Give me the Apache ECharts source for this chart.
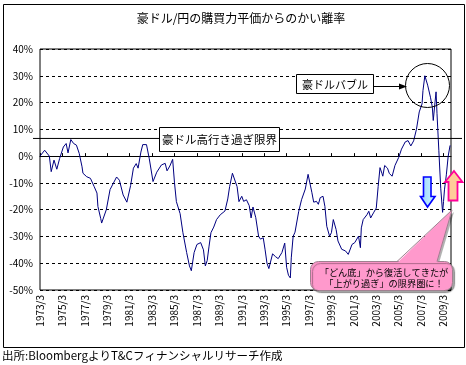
<!DOCTYPE html>
<html><head><meta charset="utf-8">
<script src="https://cdn.jsdelivr.net/npm/echarts@6/dist/echarts.min.js"></script>
<style>html,body{margin:0;padding:0;background:#fff}#c{width:466px;height:365px}</style>
</head><body><div id="c"></div>
<script>
const tickLabels = ['1973/3','1975/3','1977/3','1979/3','1981/3','1983/3','1985/3','1987/3','1989/3','1991/3','1993/3','1995/3','1997/3','1999/3','2001/3','2003/3','2005/3','2007/3','2009/3'];
const dates = ['1973/3','1973/8','1973/9','1974/1','1974/3','1974/6','1974/9','1974/12','1975/4','1975/7','1975/9','1975/12','1976/3','1976/6','1976/9','1976/12','1977/1','1977/5','1977/9','1978/1','1978/4','1978/5','1978/8','1978/9','1979/2','1979/6','1980/1','1980/4','1980/8','1980/12','1981/2','1981/4','1981/7','1981/10','1981/12','1982/3','1982/5','1982/9','1982/12','1983/4','1983/8','1984/1','1984/5','1984/7','1984/10','1985/1','1985/3','1985/5','1985/9','1985/12','1986/4','1986/7','1986/9','1986/12','1987/3','1987/7','1987/10','1987/12','1988/2','1988/4','1988/6','1988/9','1988/12','1989/4','1989/9','1989/12','1990/2','1990/5','1990/7','1990/10','1990/12','1991/3','1991/5','1991/8','1991/11','1992/1','1992/3','1992/5','1992/6','1992/9','1992/11','1993/2','1993/4','1993/6','1993/8','1993/10','1993/12','1994/3','1994/6','1994/10','1995/1','1995/3','1995/5','1995/7','1995/8','1995/10','1995/12','1996/4','1996/7','1996/11','1997/2','1997/6','1997/8','1997/11','1998/1','1998/3','1998/6','1998/8','1998/10','1999/1','1999/3','1999/5','1999/8','1999/10','2000/2','2000/6','2000/9','2001/1','2001/4','2001/8','2001/10','2001/11','2002/1','2002/5','2002/7','2002/9','2002/12','2003/3','2003/5','2003/7','2003/9','2003/10','2003/12','2004/3','2004/5','2004/8','2004/11','2005/3','2005/6','2005/10','2006/1','2006/4','2006/7','2006/10','2007/1','2007/4','2007/5','2007/7','2007/10','2008/1','2008/3','2008/4','2008/6','2008/7','2008/8','2008/10','2008/12','2009/2','2009/3','2009/4','2009/6','2009/8','2009/10'];
const values = [0,2.2,2.5,0,-5.8,-1.5,-4.9,-0.9,3.4,4.7,1.2,6.2,4.7,4.1,1,-4,-6.4,-7.7,-8.3,-11.4,-13.8,-18.8,-23.3,-25,-20,-12.5,-7.8,-9,-14.5,-17.2,-17,-11,-4.5,-2.8,-4.5,1.5,4.3,4.3,-1,-9.5,-6,-3.3,-2.7,-5.5,-3.7,-1.2,-10,-17,-21.5,-28.6,-36,-41,-42.8,-36,-33,-32.3,-35,-41,-39,-33.6,-28.6,-26.5,-23.7,-21.9,-20.5,-16,-11.4,-6.4,-7,-11.4,-17,-15,-16.9,-16.3,-18.5,-23.1,-19,-18.8,-23,-29.9,-31,-30.5,-35,-40,-42,-42,-36.5,-37.5,-38.3,-36,-32.5,-41.5,-44.5,-45.5,-38,-30,-28.4,-20.6,-16.3,-12.3,-6.8,-13.5,-17.2,-16.9,-18,-15.5,-15,-18.8,-26.2,-29.9,-28.6,-23.7,-27.4,-31.7,-34.8,-35.4,-36.7,-33,-32.3,-29.9,-34.2,-26.8,-23.7,-21.9,-20.6,-23.1,-21.2,-19.4,-11.4,-4.3,-6.4,-7.5,-3.5,-4.5,-6.5,-7.5,-3.5,-0.5,2.6,5.3,5.8,3.8,5.7,10,16.5,19.5,24.5,30,26.5,22,18.3,13.3,20.5,24,16,2,-12,-21,-17,-12.6,-7,0,4];
const yTicks = [-50,-40,-30,-20,-10,0,10,20,30,40];
const titleText = '豪ドル/円の購買力平価からのかい離率';
const sourceText = '出所:BloombergよりT&Cフィナンシャルリサーチ作成';
const limitLabel = '豪ドル高行き過ぎ限界';
const limitValue = 6.6;
const bubbleLabel = '豪ドルバブル';
const calloutLines = ['「どん底」から復活してきたが', '「上がり過ぎ」の限界圏に！'];
const lastMonth = '2009/11';

function monthIndex(s){ const p = s.split('/').map(Number); return (p[0]-1973)*12 + (p[1]-3); }
const seriesData = dates.map((d,i)=>[monthIndex(d), values[i]]);
const tickMonths = tickLabels.map(monthIndex);
const xMax = monthIndex(lastMonth);
const FONT = '"Noto Sans CJK JP", sans-serif';

const chart = echarts.init(document.getElementById('c'), null, {renderer:'canvas'});
chart.setOption({
  animation:false,
  backgroundColor:'#fff',
  grid:{left:40, top:49, width:411, height:241, show:true, borderColor:'#000', borderWidth:1, backgroundColor:'#fff'},
  xAxis:[
    {type:'value', min:0, max:xMax, position:'bottom',
     axisLine:{show:false, onZero:false}, axisTick:{show:false}, splitLine:{show:false},
     axisLabel:{rotate:90, margin:5, fontSize:10, color:'#000', fontFamily:FONT, customValues:tickMonths,
       formatter:v=>{const i=tickMonths.indexOf(v); return i>=0?tickLabels[i]:'';}}},
    {type:'value', min:0, max:xMax, position:'top',
     axisLine:{show:true, onZero:true, lineStyle:{color:'#000', width:1}},
     axisTick:{show:true, inside:false, length:3, customValues:tickMonths, lineStyle:{color:'#000'}},
     axisLabel:{show:false}, splitLine:{show:false}}
  ],
  yAxis:{type:'value', min:yTicks[0], max:yTicks[yTicks.length-1], interval:10,
    axisLine:{show:false}, axisTick:{show:false},
    axisLabel:{formatter:'{value}%', fontSize:10, color:'#000', margin:7, fontFamily:FONT},
    splitLine:{lineStyle:{color:'#000', type:[3,3], width:1}}},
  series:[{type:'line', xAxisIndex:0, data:seriesData, showSymbol:false, symbol:'none',
    lineStyle:{color:'#000080', width:1}, z:3}]
});

const yLim = chart.convertToPixel({yAxisIndex:0}, limitValue);
const T = (x,y,text,size,extra)=>Object.assign({type:'text', x:x, y:y, z:120,
  style:{text:text, fontSize:size, fontFamily:FONT, fill:'#000', align:'center', verticalAlign:'middle'}}, extra||{});

const pink = '#ff99cc', pinkStroke = '#a08090';
chart.setOption({graphic:[
  {type:'rect', z:90, shape:{x:3.5, y:4.5, width:461, height:343}, style:{fill:'none', stroke:'#000', lineWidth:1}},
  T(241, 18, titleText, 12),
  {type:'text', x:2, y:356, z:120, style:{text:sourceText, fontSize:11.5, fontFamily:FONT, fill:'#000', align:'left', verticalAlign:'middle'}},
  {type:'line', z:100, shape:{x1:33, y1:yLim, x2:462, y2:yLim}, style:{stroke:'#000', lineWidth:1}},
  {type:'rect', z:110, shape:{x:159.5, y:127.5, width:120, height:24}, style:{fill:'#fff', stroke:'#000', lineWidth:1}},
  T(219.5, 140, limitLabel, 11.5),
  {type:'rect', z:110, shape:{x:296.5, y:74.5, width:77, height:19}, style:{fill:'#fff', stroke:'#000', lineWidth:1}},
  T(335, 84.5, bubbleLabel, 11),
  {type:'line', z:110, shape:{x1:373.5, y1:86.5, x2:400, y2:86.5}, style:{stroke:'#000', lineWidth:1}},
  {type:'polygon', z:110, shape:{points:[[399,83.5],[407,86.5],[399,89.5]]}, style:{fill:'#000'}},
  {type:'circle', z:110, shape:{cx:427.5, cy:85.5, r:22}, style:{fill:'none', stroke:'#000', lineWidth:1}},
  {type:'polygon', z:110, shape:{points:[[423.5,177],[431,177],[431,196.5],[435,196.5],[427.5,207],[420.5,196.5],[423.5,196.5]]},
    style:{fill:{type:'linear',x:0,y:0,x2:1,y2:0,colorStops:[{offset:0,color:'#99ccff'},{offset:1,color:'#ccffff'}]}, stroke:'#0000ff', lineWidth:1.6}},
  {type:'polygon', z:110, shape:{points:[[454,171],[462.5,182],[457.5,182],[457.5,200.5],[448.5,200.5],[448.5,182],[445,182]]},
    style:{fill:'#ffcc99', stroke:'#ff0099', lineWidth:1.8}},
  {type:'polygon', z:108, shape:{points:[[399,263],[454,212],[439,263]]}, style:{fill:'rgba(0,0,0,0.3)'}},
  {type:'rect', z:110, shape:{x:310.5, y:261.5, width:142, height:29, r:8},
    style:{fill:pink, stroke:pinkStroke, lineWidth:1, shadowColor:'rgba(0,0,0,0.35)', shadowOffsetX:2, shadowOffsetY:2, shadowBlur:1}},
  {type:'polygon', z:111, shape:{points:[[397,263],[452,210],[437,263]]}, style:{fill:pink}},
  {type:'polyline', z:112, shape:{points:[[397,261.5],[452,210],[437,261.5]]}, style:{fill:'none', stroke:pinkStroke, lineWidth:1}},
  T(384, 273, calloutLines[0], 9.2),
  T(384, 284, calloutLines[1], 9.2)
]});
</script>
</body></html>
